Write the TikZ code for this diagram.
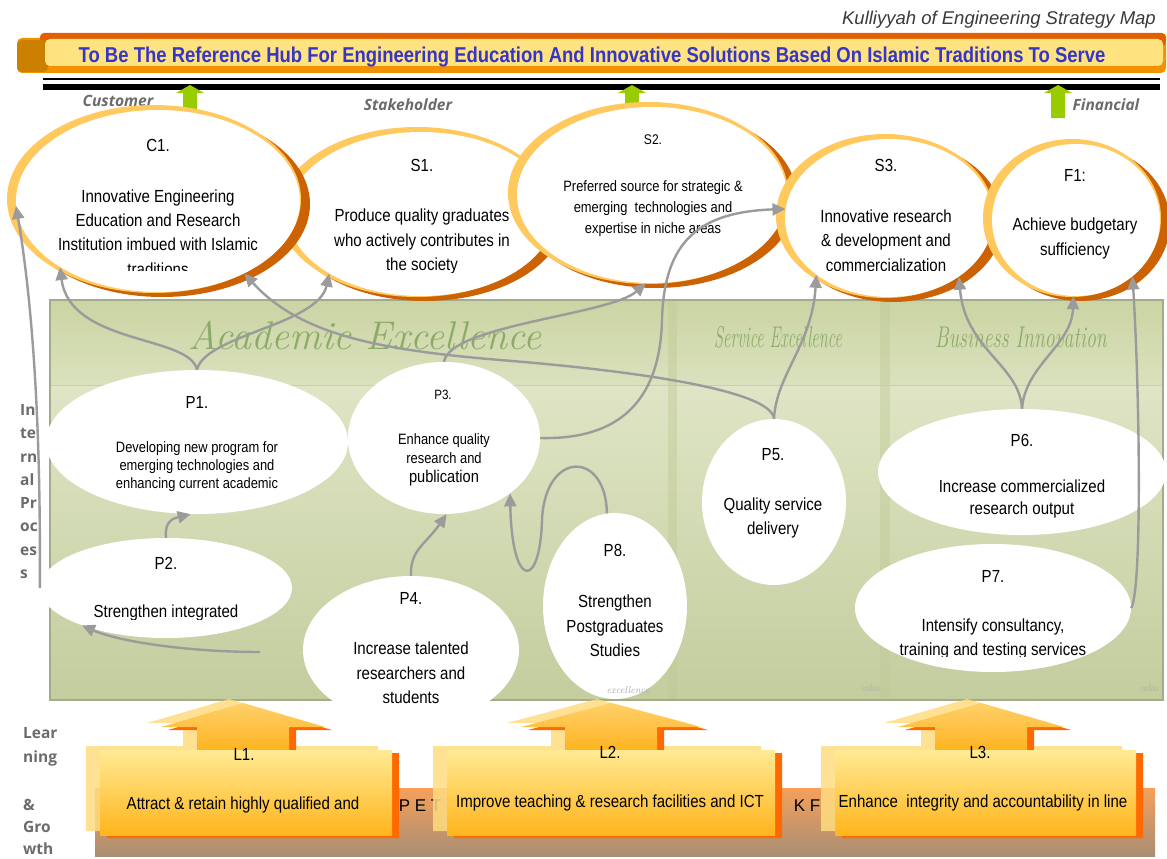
\documentclass[tikz,border=0pt]{standalone}
\usepackage{fontspec}
\usepackage{graphicx}
\usetikzlibrary{arrows.meta,shapes.geometric}

\newfontfamily\narrowsans[FakeStretch=0.86]{Liberation Sans}
\newfontfamily\plainsans{Liberation Sans}
\newfontfamily\headsans{Open Sans}

\definecolor{hubblue}{HTML}{3535C8}
\definecolor{titlegray}{HTML}{3A3A3A}
\definecolor{bannerfill}{HTML}{FFE381}
\definecolor{bannertop}{HTML}{E35F00}
\definecolor{bannerbot}{HTML}{F39200}
\definecolor{bannerleft}{HTML}{CC8000}
\definecolor{upgreen}{HTML}{99CC00}
\definecolor{persgray}{HTML}{6B6B6B}
\definecolor{rimlight}{HTML}{FFC95E}
\definecolor{rimdark}{HTML}{CC6204}
\definecolor{linkgray}{HTML}{9B9B9B}
\definecolor{themegreen}{HTML}{8CAB68}
\definecolor{panelA}{HTML}{CBD4A3}
\definecolor{panelB}{HTML}{DAE1BE}
\definecolor{panelC}{HTML}{DFE5C5}
\definecolor{panelD}{HTML}{C3CD9E}
\definecolor{panelline}{HTML}{A3AB8A}
\definecolor{bandgreen}{HTML}{C0CA96}
\definecolor{lhead}{HTML}{FFD06A}
\definecolor{lheadlow}{HTML}{FFB21E}
\definecolor{ltop}{HTML}{FFEA94}
\definecolor{lbot}{HTML}{FFB51C}
\definecolor{lghost}{HTML}{FFDC80}
\definecolor{lshadow}{HTML}{FF6A00}
\definecolor{bartop}{HTML}{F5A05A}
\definecolor{barbot}{HTML}{A88E74}

% up-arrow box of a learning goal: left, right, arrow centre, head half width
\newcommand{\learnpath}[4]{(#1,750) -- (#3-46,750) -- (#3-46,727) -- (#3-#4,727) -- (#3,703) -- (#3+#4,727) -- (#3+46,727) -- (#3+46,750) -- (#2,750) -- (#2,835) -- (#1,835) -- cycle}
\newcommand{\learnhead}[2]{(#1-46,752) -- (#1-46,727) -- (#1-#2,727) -- (#1,703) -- (#1+#2,727) -- (#1+46,727) -- (#1+46,752) -- cycle}

\begin{document}
\begin{tikzpicture}[
  x=1pt, y=-1pt,
  goal/.style={ellipse, fill=white, inner sep=0pt},
  proc/.style={ellipse, fill=white, inner sep=0pt},
  txt/.style={align=center, inner sep=0pt, font=\narrowsans\fontsize{17.5}{24.3}\selectfont},
  small/.style={align=center, inner sep=0pt, font=\narrowsans\fontsize{15}{19}\selectfont},
  link/.style={draw=linkgray, line width=2.4pt, -{Triangle[length=13pt,width=12pt]}},
  persp/.style={inner sep=0pt, font=\headsans\bfseries\itshape\fontsize{15.5}{18}\selectfont, text=persgray},
  side/.style={inner sep=0pt, anchor=west, align=left, font=\headsans\bfseries\fontsize{15.5}{23.3}\selectfont, text=persgray},
  theme/.style={inner sep=0pt, font=\itshape\fontsize{30}{30}\selectfont, text=themegreen},
  wmark/.style={inner sep=0pt, font=\itshape\fontsize{10}{10}\selectfont, text=gray!70}
]
\useasboundingbox (0,0) rectangle (1167,859);

% title and vision banner
\node[anchor=east, inner sep=0pt, font=\plainsans\itshape\fontsize{18.5}{20}\selectfont, text=titlegray] (title) at (1156,20) {Kulliyyah of Engineering Strategy Map};
\fill[bannerbot, rounded corners=5] (17,38) rectangle (1166,73);
\fill[bannertop, rounded corners=4] (40,33) rectangle (1166,46);
\fill[bannerleft, rounded corners=5] (17,40) rectangle (48,72);
\fill[bannerfill, rounded corners=5] (45,39) rectangle (1163,66);
\node[inner sep=0pt, font=\narrowsans\bfseries\fontsize{21.5}{24}\selectfont, text=hubblue] (vision) at (592,57)
  {To Be The Reference Hub For Engineering Education And Innovative Solutions Based On Islamic Traditions To Serve};

\draw[line width=1.3pt] (43,79) -- (1160,79);
\fill (43,84) rectangle (1160,90);
\foreach \x in {190,632,1058}
  \fill[upgreen] (\x-7,118) -- (\x-7,93) -- (\x-14,93) -- (\x,85) -- (\x+14,93) -- (\x+7,93) -- (\x+7,118) -- cycle;

\node[persp] (cust) at (118,101) {Customer};
\node[persp] (stake) at (408,105) {Stakeholder};
\node[persp] (fin) at (1106,105) {Financial};

% internal process panel
\shade[top color=panelA, bottom color=panelB] (50,300) rectangle (1163,385);
\shade[top color=panelC, bottom color=panelD] (50,385) rectangle (1163,700);
\fill[bandgreen, opacity=.45] (668,300) rectangle (677,700);
\fill[bandgreen, opacity=.45] (880,300) rectangle (890,700);
\draw[panelline!60] (50,385) -- (1163,385);
\draw[panelline, line width=1.2pt] (50,300) rectangle (1163,700);

\node[theme, font=\itshape\fontsize{40}{40}\selectfont] (acad) at (365,335) {Academic Excellence};
\node[theme] (serv) at (778,337) {\scalebox{0.55}[1]{Service Excellence}};
\node[theme] (busi) at (1021,337) {\scalebox{0.66}[1]{Business Innovation}};

% process ellipses
\node[proc, minimum width=302, minimum height=144] (P1) at (197,442) {};
\node[proc, minimum width=192, minimum height=152] (P3) at (444,438) {};
\node[proc, minimum width=252, minimum height=100] (P2) at (166,588) {};
\node[proc, minimum width=216, minimum height=148] (P4) at (411,650) {};
\node[proc, minimum width=144, minimum height=186] (P8) at (615,606) {};
\node[proc, minimum width=144, minimum height=166] (P5) at (774,502) {};
\node[proc, minimum width=288, minimum height=126] (P6) at (1022,472) {};
\node[proc, minimum width=276, minimum height=128] (P7) at (993,608) {};

\node[wmark] (wm1) at (628,690) {excellence};
\node[wmark] (wm2) at (871,688) {\scalebox{0.4}[1]{excellence}};
\node[wmark] (wm3) at (1150,688) {\scalebox{0.4}[1]{excellence}};

\node[txt] (P1n) at (197,402) {P1.};
\node[small, font=\narrowsans\fontsize{15}{18}\selectfont] (P1d) at (197,467) {Developing new program for\\emerging technologies and\\enhancing current academic};
\node[small, font=\narrowsans\fontsize{13.5}{16}\selectfont] (P3n) at (443,395) {P3.};
\node[small] (P3d) at (444,460) {Enhance quality\\research and\\\fontsize{17}{20}\selectfont publication};
\node[txt] (P2n) at (166,563) {P2.};
\begin{scope}
  \clip (30,540) rectangle (300,619);
  \node[txt] (P2d) at (166,613) {Strengthen integrated};
\end{scope}
\node[txt] (P4n) at (411,598) {P4.};
\node[txt] (P4d) at (411,673) {Increase talented\\researchers and\\students};
\node[txt] (P8n) at (615,550) {P8.};
\node[txt] (P8d) at (615,626) {Strengthen\\Postgraduates\\Studies};
\node[txt] (P5n) at (773,455) {P5.};
\node[txt] (P5d) at (773,518) {Quality service\\delivery};
\node[txt] (P6n) at (1022,440) {P6.};
\node[txt, font=\narrowsans\fontsize{17.5}{22}\selectfont] (P6d) at (1022,499) {Increase commercialized\\research output};
\node[txt] (P7n) at (993,576) {P7.};
\begin{scope}
  \clip (850,600) rectangle (1140,656);
  \node[txt] (P7d) at (993,639) {Intensify consultancy,\\training and testing services};
\end{scope}

% strategic goals: dark rim, light rim, white face
\fill[rimdark] (425,217) ellipse (139 and 84);
\fill[rimlight] (417,212) ellipse (138 and 85);
\node[goal, minimum width=266, minimum height=164] (S1) at (421,214) {};
\fill[rimdark] (162,204) ellipse (148 and 93);
\fill[rimlight] (154,199) ellipse (147 and 94);
\node[goal, minimum width=284, minimum height=182] (C1) at (158,201) {};
\fill[rimdark] (656,198) ellipse (141 and 90);
\fill[rimlight] (648,193) ellipse (140 and 91);
\node[goal, minimum width=270, minimum height=176] (S2) at (652,195) {};
\fill[rimdark] (893,221) ellipse (110 and 81);
\fill[rimlight] (885,216) ellipse (109 and 82);
\node[goal, minimum width=208, minimum height=158] (S3) at (889,218) {};
\fill[rimdark] (1080,223) ellipse (90 and 78);
\fill[rimlight] (1072,218) ellipse (89 and 79);
\node[goal, minimum width=168, minimum height=152] (F1) at (1076,220) {};

\node[txt] (C1n) at (158,145) {C1.};
\begin{scope}
  \clip (10,180) rectangle (310,270);
  \node[txt] (C1d) at (158,232.5) {Innovative Engineering\\Education and Research\\Institution imbued with Islamic\\traditions};
\end{scope}
\node[txt] (S1n) at (422,165) {S1.};
\begin{scope}
  \clip (290,190) rectangle (560,272);
  \node[txt] (S1d) at (422,241.5) {Produce quality graduates\\who actively contributes in\\the society};
\end{scope}
\node[small, font=\narrowsans\fontsize{14}{16}\selectfont] (S2n) at (653,140) {S2.};
\node[small, font=\narrowsans\fontsize{15}{21}\selectfont] (S2d) at (653,209) {Preferred source for strategic \&\\emerging\ \ technologies and\\expertise in niche areas};
\node[txt] (S3n) at (886,165) {S3.};
\begin{scope}
  \clip (780,190) rectangle (1000,270);
  \node[txt] (S3d) at (886,240.5) {Innovative research\\\& development and\\commercialization};
\end{scope}
\node[txt] (F1n) at (1075,175) {F1:};
\node[txt] (F1d) at (1075,238.5) {Achieve budgetary\\sufficiency};

% side labels
\node[side] (intl) at (20,491.5) {In\\te\\rn\\al\\Pr\\oc\\es\\s};
\node[side, font=\headsans\bfseries\fontsize{15.5}{24}\selectfont] (lear) at (23,747) {Lear\\ning};
\node[side, font=\headsans\bfseries\fontsize{15.5}{22}\selectfont] (grow) at (23,827) {\&\\Gro\\wth};

% cause and effect links
\coordinate (p4tail) at (260,652);
\draw[link] (P1.north) .. controls (190,335) and (70,345) .. (C1.214);
\draw[link] (P1.north) .. controls (205,335) and (318,325) .. (S1.213);
\draw[link] (P3.north) .. controls (450,325) and (610,315) .. (S2.266);
\draw[link] (P3.east) .. controls (620,440) and (660,400) .. (662,320) .. controls (664,240) and (700,212) .. (S3.175);
\draw[link] (P5.north) .. controls (772,392) and (650,372) .. (500,360) .. controls (380,350) and (300,335) .. (C1.320);
\draw[link] (P5.north) .. controls (776,375) and (812,345) .. (S3.218);
\draw[link] (P6.north) .. controls (1020,365) and (965,350) .. (S3.320);
\draw[link] (P6.north) .. controls (1025,365) and (1072,345) .. (F1.268);
\draw[link] (P7.east) .. controls (1142,590) and (1140,400) .. (F1.315);
\draw[link] (P2.west) .. controls (41,420) and (32,300) .. (C1.182);
\draw[link] (P2.north) .. controls (164,520) and (175,518) .. (P1.265);
\draw[link] (P4.north) .. controls (410,550) and (425,545) .. (P3.272);
\draw[link] (P8.95) .. controls (606,450) and (545,450) .. (542,520) .. controls (540,590) and (512,590) .. (P3.-40);
\draw[link] (p4tail) .. controls (190,652) and (120,642) .. (P2.204);

% learning and growth
\shade[top color=bartop, bottom color=barbot] (95,788) rectangle (1155,856);
\node[inner sep=0pt, font=\plainsans\fontsize{17}{20}\selectfont] (pet) at (420,806) {P E T};
\node[inner sep=0pt, font=\plainsans\fontsize{17}{20}\selectfont] (kf) at (807,806) {K F};

\fill[lghost, opacity=.85, shift={(-14,-4)}] \learnpath{100}{392}{243}{82};
\fill[lshadow, shift={(7,3)}] \learnpath{100}{392}{243}{82};
\shade[top color=lhead, bottom color=lheadlow] \learnhead{243}{82};
\shade[top color=ltop, bottom color=lbot] (100,750) rectangle (392,835);
\node[txt] (L1n) at (244,754) {L1.};
\node[txt] (L1d) at (243,805) {Attract \& retain highly qualified and};

\fill[lghost, opacity=.85, shift={(-14,-4)}] \learnpath{447}{775}{611}{90};
\fill[lshadow, shift={(7,3)}] \learnpath{447}{775}{611}{90};
\shade[top color=lhead, bottom color=lheadlow] \learnhead{611}{90};
\shade[top color=ltop, bottom color=lbot] (447,750) rectangle (775,835);
\node[txt] (L2n) at (610,752) {L2.};
\node[txt] (L2d) at (610,803) {Improve teaching \& research facilities and ICT};

\fill[lghost, opacity=.85, shift={(-14,-4)}] \learnpath{835}{1136}{981}{83};
\fill[lshadow, shift={(7,3)}] \learnpath{835}{1136}{981}{83};
\shade[top color=lhead, bottom color=lheadlow] \learnhead{981}{83};
\shade[top color=ltop, bottom color=lbot] (835,750) rectangle (1136,835);
\node[txt] (L3n) at (980,752) {L3.};
\node[txt] (L3d) at (983,803) {Enhance\ \ integrity and accountability in line};

\end{tikzpicture}
\end{document}
